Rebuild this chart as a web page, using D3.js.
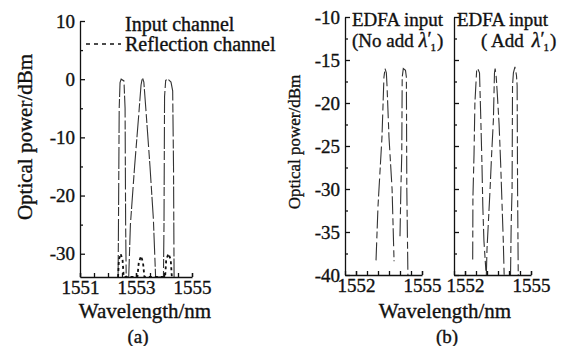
<!DOCTYPE html>
<html>
<head>
<meta charset="utf-8">
<script src="https://cdn.jsdelivr.net/npm/d3@7/dist/d3.min.js"></script>
<style>
  body { margin: 0; background: #fff; }
  svg text { font-family: "Liberation Serif", "Times New Roman", serif; fill: #111; stroke: #111; stroke-width: 0.35; }
  .axis path, .axis line { stroke: #111; stroke-width: 1.3; }
  .axis text { font-size: 19px; }
</style>
</head>
<body>
<div id="chart"></div>
<script>
// panel (a): input channel trace and reflection channel trace, [wavelength nm, power dBm]
const inputChannel = [
  [1552.36, -34], [1552.37, -28], [1552.40, -5], [1552.43, -0.6], [1552.47, 0], [1552.57, -0.3],
  [1552.61, -5], [1552.63, -25], [1552.65, -34],
  [1552.74, -34], [1552.80, -25], [1552.95, -15], [1553.10, -6], [1553.18, -1], [1553.23, 0.3],
  [1553.28, -0.5], [1553.35, -5], [1553.50, -15], [1553.62, -24], [1553.70, -34],
  [1553.98, -34], [1554.00, -25], [1554.02, -3], [1554.06, -0.2], [1554.14, 0], [1554.25, -0.5],
  [1554.31, -2], [1554.34, -15], [1554.36, -34]
];
const reflectionChannel = [
  [1552.36, -34], [1552.39, -31], [1552.45, -30], [1552.52, -31], [1552.56, -34],
  [1553.05, -34], [1553.10, -31.5], [1553.18, -30.4], [1553.25, -31.5], [1553.30, -34],
  [1554.04, -34], [1554.08, -31], [1554.16, -30], [1554.24, -31], [1554.28, -34]
];

// panel (b): EDFA input without / with added lambda'1
const noAddPeaks = [
  [[1552.91, -38.3], [1553.00, -32], [1553.18, -24], [1553.27, -17], [1553.32, -16], [1553.38, -16.5],
   [1553.41, -18], [1553.50, -24], [1553.64, -30], [1553.73, -38.4]],
  [[1554.00, -35.5], [1554.04, -30], [1554.08, -26], [1554.10, -17], [1554.15, -16], [1554.25, -16.2],
   [1554.29, -17], [1554.31, -30], [1554.36, -40]]
];
const addPeaks = [
  [[1552.35, -38.2], [1552.36, -31], [1552.41, -26], [1552.45, -20], [1552.53, -16.2], [1552.58, -16],
   [1552.66, -16.5], [1552.72, -22], [1552.77, -27], [1552.81, -32], [1552.86, -36], [1552.95, -39.5]],
  [[1552.97, -40], [1553.00, -37], [1553.06, -34], [1553.14, -30], [1553.21, -26], [1553.29, -22],
   [1553.34, -16.5], [1553.37, -16], [1553.42, -17], [1553.47, -19], [1553.55, -22.5], [1553.62, -27],
   [1553.68, -31.5], [1553.74, -36], [1553.78, -40]],
  [[1554.07, -40], [1554.10, -34], [1554.14, -30], [1554.16, -18], [1554.20, -16.5], [1554.27, -15.8],
   [1554.34, -16.8], [1554.37, -18], [1554.39, -30], [1554.42, -40]]
];

const ticksA = { y: [10, 0, -10, -20, -30], yMinor: [5, -5, -15, -25], x: [1551, 1553, 1555] };
const ticksB = { y: [-10, -15, -20, -25, -30, -35, -40], x: [1552, 1555] };
const xMinorA = [1551, 1551.5, 1552, 1552.5, 1553, 1553.5, 1554, 1554.5, 1555];
const xMinorB = [1551.5, 1552, 1552.5, 1553, 1553.5, 1554, 1554.5, 1555];
const yMinorB = [-12.5, -17.5, -22.5, -27.5, -32.5, -37.5];

const svg = d3.select('#chart').append('svg').attr('width', 581).attr('height', 346);
const fmt = d => String(d);

function yAxis(g, y, major, minor, labels) {
  g.append('g').attr('class', 'axis')
    .call(d3.axisLeft(y).tickValues(major).tickSize(-5).tickSizeOuter(0).tickPadding(5)
      .tickFormat(labels ? fmt : ''));
  g.append('g').attr('class', 'axis')
    .call(d3.axisLeft(y).tickValues(minor).tickSize(-3).tickSizeOuter(0).tickFormat(''))
    .select('.domain').remove();
}

function xAxis(g, x, height, major, minor) {
  g.append('g').attr('class', 'axis').attr('transform', 'translate(0,' + height + ')')
    .call(d3.axisBottom(x).tickValues(minor).tickSize(-4).tickSizeOuter(0).tickFormat(''));
  g.append('g').attr('class', 'axis').attr('transform', 'translate(0,' + height + ')')
    .call(d3.axisBottom(x).tickValues(major).tickSize(-4).tickPadding(3).tickFormat(fmt))
    .select('.domain').remove();
}

/* ---- panel (a) ---- */
const xA = d3.scaleLinear().domain([1551, 1555]).range([80, 192]);
const yA = d3.scaleLinear().domain([-34, 10]).range([277, 21]);
const gA = svg.append('g');
const lineA = d3.line().x(d => xA(d[0])).y(d => yA(d[1]));

gA.append('path').datum(inputChannel)
  .attr('fill', 'none').attr('stroke', '#333').attr('stroke-width', 1.1)
  .attr('stroke-dasharray', '22,3,9,2').attr('d', lineA);
gA.append('path').datum(reflectionChannel)
  .attr('fill', 'none').attr('stroke', '#111').attr('stroke-width', 1.8)
  .attr('stroke-dasharray', '3,3').attr('d', lineA);

const gA1 = gA.append('g').attr('transform', 'translate(' + xA.range()[0] + ',0)');
yAxis(gA1, yA, ticksA.y, ticksA.yMinor, true);
xAxis(gA, xA, yA(-34), ticksA.x, xMinorA);

// legend
gA.append('text').attr('x', 125).attr('y', 31).style('font-size', '20px').text('Input channel');
gA.append('line').attr('x1', 86).attr('x2', 121).attr('y1', 44).attr('y2', 44)
  .attr('stroke', '#111').attr('stroke-width', 1.6).attr('stroke-dasharray', '4,4');
gA.append('text').attr('x', 125).attr('y', 51).style('font-size', '20px').text('Reflection channel');

gA.append('text').attr('transform', 'translate(32,137) rotate(-90)')
  .attr('text-anchor', 'middle').style('font-size', '21px').text('Optical power/dBm');
gA.append('text').attr('x', 145).attr('y', 318).attr('text-anchor', 'middle')
  .style('font-size', '21px').text('Wavelength/nm');
gA.append('text').attr('x', 138).attr('y', 343).attr('text-anchor', 'middle')
  .style('font-size', '19px').text('(a)');

/* ---- panel (b) ---- */
const yB = d3.scaleLinear().domain([-40, -10]).range([275, 17]);
const xB1 = d3.scaleLinear().domain([1551.5, 1555]).range([345, 422]);
const xB2 = d3.scaleLinear().domain([1551.5, 1555]).range([454, 531]);
const gB = svg.append('g');

function drawPeaks(g, x, peaks) {
  const line = d3.line().x(d => x(d[0])).y(d => yB(d[1]));
  g.selectAll(null).data(peaks).enter().append('path')
    .attr('fill', 'none').attr('stroke', '#333').attr('stroke-width', 1.1)
    .attr('stroke-dasharray', '18,4,7,3').attr('d', line);
}

drawPeaks(gB, xB1, noAddPeaks);
drawPeaks(gB, xB2, addPeaks);

const gB1 = gB.append('g').attr('transform', 'translate(' + xB1.range()[0] + ',0)');
yAxis(gB1, yB, ticksB.y, yMinorB, true);
xAxis(gB, xB1, yB(-40), ticksB.x, xMinorB);

const gB2 = gB.append('g').attr('transform', 'translate(' + xB2.range()[0] + ',0)');
yAxis(gB2, yB, ticksB.y, yMinorB, false);
xAxis(gB, xB2, yB(-40), ticksB.x, xMinorB);

function panelTitle(x, anchorX, second, gap) {
  gB.append('text').attr('x', x).attr('y', 26).style('font-size', '19px').text('EDFA input');
  const t = gB.append('text').attr('x', anchorX).attr('y', 47).style('font-size', '19px');
  t.append('tspan').text(second);
  t.append('tspan').attr('dx', gap).style('font-style', 'italic').style('font-size', '20px').text('λ');
  t.append('tspan').attr('dy', -2).text('′');
  t.append('tspan').attr('dx', -1).attr('dy', 6).style('font-size', '11px').text('1');
  t.append('tspan').attr('dx', 1).attr('dy', -4).text(')');
}
panelTitle(352, 352, '(No add', 5);
panelTitle(457, 481, '( Add', 8);

gB.append('text').attr('transform', 'translate(300,142) rotate(-90)')
  .attr('text-anchor', 'middle').style('font-size', '17px').text('Optical power/dBm');
gB.append('text').attr('x', 445).attr('y', 318).attr('text-anchor', 'middle')
  .style('font-size', '21px').text('Wavelength/nm');
gB.append('text').attr('x', 447).attr('y', 343).attr('text-anchor', 'middle')
  .style('font-size', '19px').text('(b)');
</script>
</body>
</html>
